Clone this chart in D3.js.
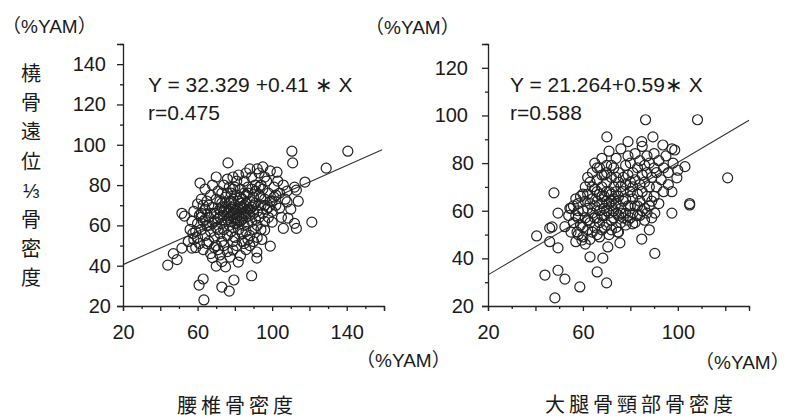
<!DOCTYPE html>
<meta charset="utf-8">
<script src="https://d3js.org/d3.v7.min.js"></script>
<head>
<style>
  body { margin: 0; background: #fff; }
  text { font-family: "Liberation Sans", Arial, "Noto Sans CJK JP", sans-serif; fill: #1a1a1a; }
  .jp { font-family: "Noto Sans CJK JP", sans-serif; }
  .axis path, .axis line { stroke: #222; stroke-width: 1.3; }
  .axis text { font-size: 20px; fill: #1a1a1a; font-family: "Liberation Sans", Arial, sans-serif; }
</style>
</head>
<body>
<div id="viz"></div>
<script>
// left panel: lumbar spine BMD (x) vs distal 1/3 radius BMD (y), %YAM
const lumbarPoints = [
  [110.6,96.8],[140.6,96.8],[111,91],[129,88.4],[117.6,81.5],[76.3,91],[61.3,81],[95,89],[102.6,86.4],[113,77.5],
  [51.6,66],[53,64.6],[44,40.3],[47,46],[49,43],[51.6,48.7],[57,48.7],[57.5,56],[60.8,30.4],[63,33.4],
  [63.4,23],[70,39.8],[73,29.4],[77,27.4],[79.5,32.9],[75,39.4],[81.8,41.8],[89,35],[91.8,43.8],[91.8,46.8],
  [99,49.7],[94.5,53],[121.3,61.6],[112,61],[113,58.5],[106,58.5],[108.5,63.6],[100,61.6],[104,68.6],[108,71.6],
  [96,57.7],[77.4,44.3],[79,47.8],[72,45.3],[60,70.6],[62,66],
  [62,58],[63,62],[64,55],[64,68],[65,72],[65,60],[66,52],[66,64],[67,75],[67,57],
  [68,61],[68,69],[69,54],[69,66],[70,73],[70,59],[70,50],[71,63],[71,77],[72,56],
  [72,68],[73,61],[73,71],[73,52],[74,65],[74,80],[74,58],[75,62],[75,69],[75,74],
  [76,55],[76,66],[76,83],[77,60],[77,71],[77,64],[78,57],[78,68],[78,76],[78,62],
  [79,73],[79,59],[79,66],[80,70],[80,63],[80,79],[80,54],[81,67],[81,61],[81,75],
  [82,58],[82,72],[82,65],[83,69],[83,62],[83,78],[84,56],[84,66],[84,73],[85,60],
  [85,70],[85,82],[86,64],[86,57],[86,75],[87,68],[87,61],[87,79],[88,65],[88,72],
  [88,55],[89,69],[89,62],[89,84],[90,66],[90,74],[90,58],[91,71],[91,63],[91,80],
  [92,67],[92,60],[93,75],[93,64],[93,86],[94,70],[94,58],[95,78],[95,66],[96,73],
  [96,62],[97,82],[97,68],[98,76],[98,64],[99,72],[99,87],[100,67],[101,79],[101,74],
  [102,70],[103,82],[104,76],[105,64],[106,80],[107,73],[108,77],[110,68],[112,79],[114,72],
  [55,52],[56,58],[57,62],[58,53],[58,67],[59,57],[59,49],[60,61],[60,54],[61,65],
  [61,51],[62,73],[63,48],[64,78],[65,51],[66,70],[67,46],[68,80],[69,49],[70,84],
  [68,44],[71,48],[73,42],[74,50],[76,47],[79,52],[81,50],[83,45],[85,51],[86,48],
  [88,50],[90,52],[92,54],[84,52],[87,53],
  [72,64],[74,67],[76,63],[78,65],[80,66],[82,68],[84,63],[86,67],[70,66],[73,69],
  [77,67],[79,69],[81,64],[83,71],[85,66],[75,71],[78,72],[80,61],[82,62],[84,69],
  [86,71],[88,68],[90,70],[72,72],[76,76],[79,78],[83,74],[87,76],[91,77],[94,74],
  [96,70],[98,69],[100,72],[102,75],[93,79],[89,78],[85,76],[81,82],[77,79],[73,76],
  [71,58],[69,62],[67,66],[66,60],[64,63],[63,70],[62,64],[94,80],[96,84],[92,88],
  [86,86],[82,85],[79,84],[88,88]
];

// right panel: femoral neck BMD (x) vs distal 1/3 radius BMD (y), %YAM
const femurPoints = [
  [86.4,98.2],[108.3,98.2],[70.1,91],[121,73.8],[47.8,67.5],[89.5,91],[79,89],[103,78.5],[97.5,86],[105,63],
  [40.5,49.4],[46,52.7],[46,47],[49.5,59],[49.5,44.4],[44,33],[49.5,35],[52.4,31.3],[58.7,28],[48.2,23.4],
  [63,40.6],[66,34.3],[68.4,40.1],[70,29.7],[70.5,44.8],[81,54.5],[84.8,48.1],[88,52],[90.3,42.1],[90.3,59],
  [97.5,59],[105,62.4],[52.4,53.3],[55,61],[75.6,46.5],[74.7,51],[97.5,68],[99.6,73.8],[93.7,87.6],[98.7,85.5],
  [84.8,89],[47,53.2],[54.5,61],[57.5,51],[59.6,47.7],
  [56,55],[57,58],[58,63],[58,50],[59,66],[59,54],[60,60],[60,49],[61,57],[61,64],
  [61,70],[62,52],[62,61],[62,67],[63,55],[63,72],[63,48],[64,59],[64,65],[64,76],
  [65,53],[65,62],[65,69],[65,80],[66,57],[66,64],[66,73],[66,50],[67,60],[67,67],
  [67,78],[67,55],[68,63],[68,70],[68,52],[68,82],[69,58],[69,66],[69,75],[69,61],
  [70,54],[70,64],[70,72],[70,79],[71,59],[71,68],[71,85],[71,50],[72,62],[72,74],
  [72,56],[72,67],[73,65],[73,78],[73,60],[73,70],[74,53],[74,63],[74,82],[74,68],
  [75,58],[75,72],[75,66],[75,76],[76,61],[76,70],[76,86],[76,55],[77,64],[77,74],
  [77,68],[78,59],[78,79],[78,71],[78,65],[79,62],[79,75],[79,83],[80,68],[80,72],
  [80,57],[80,80],[81,65],[81,76],[81,70],[82,62],[82,84],[82,73],[83,67],[83,78],
  [83,58],[84,71],[84,81],[84,64],[85,75],[85,68],[85,87],[86,72],[86,79],[86,61],
  [87,66],[87,76],[87,83],[88,70],[88,80],[89,74],[89,64],[90,78],[90,84],[91,70],
  [91,76],[92,81],[93,73],[94,78],[95,83],[96,76],[98,80],[100,77],
  [54,58],[55,51],[56,62],[57,47],[58,57],[60,67],[61,46],[62,74],[63,63],[64,51],
  [65,57],[66,68],[67,49],[68,58],[69,53],[70,60],[71,63],[72,52],[73,57],[74,59],
  [75,51],[76,59],[77,57],[78,54],[79,56],[80,62],[81,59],[82,55],[83,62],[84,58],
  [85,60],[86,56],[87,59],[88,62],[89,57],[90,66],[92,63],[94,68],[96,71],[64,70],
  [66,78],[68,75],[70,76],[72,79],[74,74],[62,56],[60,53],[58,60],[57,65],[70,68],
  [72,64],[68,66]
];

const lumbarFit = [32.329, 0.41];   // intercept, slope
const femurFit = [21.264, 0.59];

const lumbarYLabels = [20, 40, 60, 80, 100, 120, 140];
const lumbarXLabels = [20, 60, 100, 140];
const femurYLabels = [20, 40, 60, 80, 100, 120];
const femurXLabels = [20, 60, 100];

const yTitle = ["橈", "骨", "遠", "位", "⅓", "骨", "密", "度"];

const svg = d3.select("#viz")
  .append("svg")
    .attr("width", 795)
    .attr("height", 418);

function panel(o) {
  const x = d3.scaleLinear().domain(o.xDomain).range(o.xRange);
  const y = d3.scaleLinear().domain(o.yDomain).range([306, 44]);

  const g = svg.append("g");

  // regression line
  const x0 = o.xDomain[0], x1 = o.lineEnd;
  g.append("line")
    .attr("x1", x(x0)).attr("y1", y(o.fit[0] + o.fit[1] * x0))
    .attr("x2", x(x1)).attr("y2", y(o.fit[0] + o.fit[1] * x1))
    .attr("stroke", "#333").attr("stroke-width", 1.1);

  // points
  g.append("g")
    .selectAll("circle")
    .data(o.points)
    .join("circle")
      .attr("cx", d => x(d[0]))
      .attr("cy", d => y(d[1]))
      .attr("r", 5)
      .attr("fill", "none")
      .attr("stroke", "#222")
      .attr("stroke-width", 1.2);

  // y axis
  const yAx = g.append("g")
    .attr("class", "axis")
    .attr("transform", `translate(${o.xRange[0]},0)`)
    .call(d3.axisLeft(y)
      .tickValues(d3.range(o.yDomain[0], o.yDomain[1] + 1, 10))
      .tickSizeOuter(0)
      .tickSize(6)
      .tickFormat(d => o.yLabels.includes(d) ? d : ""));
  yAx.selectAll(".tick line").attr("x2", d => d % 20 ? -3 : -6);
  yAx.selectAll(".tick text").attr("x", d => d >= 100 ? o.yLab3 : o.yLab2);

  // x axis
  const xAx = g.append("g")
    .attr("class", "axis")
    .attr("transform", "translate(0,306)")
    .call(d3.axisBottom(x)
      .tickValues(d3.range(o.xDomain[0], o.xDomain[1] + 1, 10))
      .tickSizeOuter(0)
      .tickSize(5)
      .tickFormat(d => o.xLabels.includes(d) ? d : ""));
  xAx.selectAll(".tick line").attr("y2", d => d % 20 ? 3 : 5);
  xAx.selectAll(".tick text").attr("y", 19);

  // equation
  g.append("text").attr("x", o.eqX).attr("y", 92).style("font-size", "21px").text(o.eq);
  g.append("text").attr("x", o.eqX).attr("y", 120).style("font-size", "21px").text(o.r);
}

panel({
  points: lumbarPoints, fit: lumbarFit,
  xDomain: [20, 160], xRange: [123, 384], yDomain: [20, 150],
  xLabels: lumbarXLabels, yLabels: lumbarYLabels,
  yLab3: -17, yLab2: -12, lineEnd: 159,
  eqX: 148, eq: "Y = 32.329 +0.41 ∗ X", r: "r=0.475"
});

panel({
  points: femurPoints, fit: femurFit,
  xDomain: [20, 130], xRange: [488, 749], yDomain: [20, 130],
  xLabels: femurXLabels, yLabels: femurYLabels,
  yLab3: -20, yLab2: -14, lineEnd: 130,
  eqX: 510, eq: "Y = 21.264+0.59∗ X", r: "r=0.588"
});

// unit labels
const units = [[2, 33], [365, 34], [356, 367], [695, 369]];
svg.selectAll(".unit")
  .data(units)
  .join("text")
    .attr("class", "unit")
    .attr("x", d => d[0])
    .attr("y", d => d[1])
    .style("font-size", "19px")
    .text("（%YAM）");

// vertical y title
svg.selectAll(".ytitle")
  .data(yTitle)
  .join("text")
    .attr("class", "ytitle jp")
    .attr("x", 31)
    .attr("y", (d, i) => 74 + i * 29.2)
    .attr("dy", "0.35em")
    .attr("text-anchor", "middle")
    .style("font-size", "20px")
    .text(d => d);

// x titles
svg.append("text").attr("class", "jp")
  .attr("x", 237).attr("y", 413).attr("text-anchor", "middle")
  .style("font-size", "20px").style("letter-spacing", "4px")
  .text("腰椎骨密度");
svg.append("text").attr("class", "jp")
  .attr("x", 641).attr("y", 412).attr("text-anchor", "middle")
  .style("font-size", "20px").style("letter-spacing", "4px")
  .text("大腿骨頸部骨密度");
</script>
</body>
